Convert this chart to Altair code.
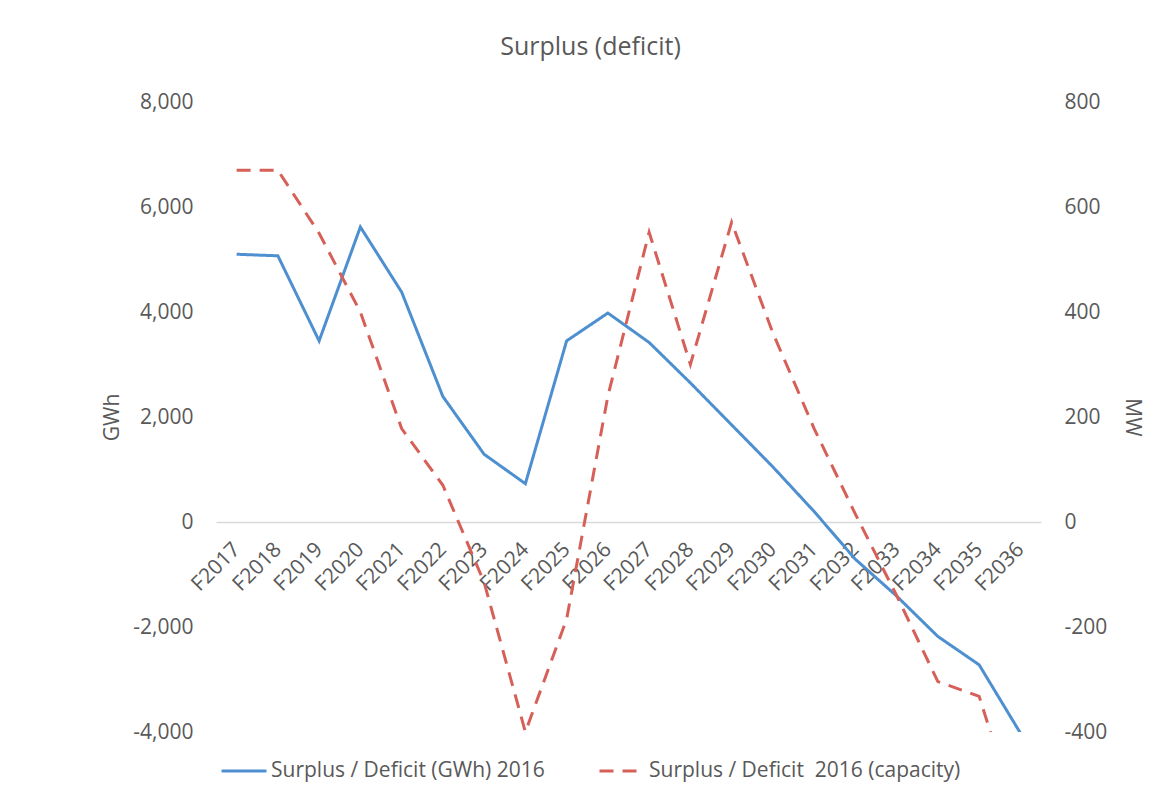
import altair as alt
import pandas as pd

categories = ["F2017", "F2018", "F2019", "F2020", "F2021", "F2022", "F2023", "F2024",
              "F2025", "F2026", "F2027", "F2028", "F2029", "F2030", "F2031", "F2032",
              "F2033", "F2034", "F2035", "F2036"]
gwh_values = [5100, 5070, 3450, 5620, 4380, 2390, 1290, 730, 3450, 3980,
              3420, 2650, 1850, 1050, 200, -710, -1410, -2180, -2720, -4020]
mw_values = [670, 670, 550, 400, 178, 70, -115, -400, -185, 240,
             552, 300, 571, 360, 178, 15, -140, -304, -332, -580]
series_names = ["Surplus / Deficit (GWh) 2016", "Surplus / Deficit \u00a02016 (capacity)"]
gwh_ticks = [-4000, -2000, 0, 2000, 4000, 6000, 8000]
mw_ticks = [-400, -200, 0, 200, 400, 600, 800]

df_gwh = pd.DataFrame({"cat": categories, "value": gwh_values, "series": series_names[0]})
df_mw = pd.DataFrame({"cat": categories, "value": mw_values, "series": series_names[1]})

GREY = "#595959"
FONT = "Open Sans"
W, H = 825, 630
FS = 21

legend = alt.Legend(
    title=None, orient="none", legendX=4, legendY=645, direction="horizontal",
    symbolType="stroke", symbolSize=2025, symbolStrokeWidth=3,
    labelFontSize=FS, labelColor=GREY, labelFont=FONT, labelLimit=500, columnPadding=48,
    labelOffset=3, symbolOffset=0,
)
color = alt.Color("series:N", scale=alt.Scale(domain=series_names, range=["#4e8fd0", "#d66058"]),
                  legend=legend)
dash = alt.StrokeDash("series:N", scale=alt.Scale(domain=series_names, range=[[1, 0], [14, 9]]),
                      legend=legend)

x = alt.X("cat:N", sort=categories,
          axis=alt.Axis(title=None, labelAngle=-45, labelAlign="right", labelBaseline="middle",
                        offset=-210, domainColor="#d9d9d9", domainWidth=1.5, ticks=False,
                        labelPadding=24, labelFontSize=FS, labelColor=GREY, labelFont=FONT,
                        grid=False))

left = alt.Chart(df_gwh).mark_line(strokeWidth=3, clip=True).encode(
    x=x,
    y=alt.Y("value:Q", scale=alt.Scale(domain=[-4000, 8000], nice=False, zero=False),
            axis=alt.Axis(values=gwh_ticks, title="GWh", grid=False, domain=False, ticks=False,
                          labelPadding=23, labelFontSize=FS, labelColor=GREY, labelFont=FONT,
                          labelExpr="replace(format(datum.value, ','), '\u2212', '-')",
                          titleFontSize=FS, titleFontWeight="normal", titleColor=GREY,
                          titleFont=FONT, titleAngle=-90, titleX=-104, titleY=H / 2,
                          titleAlign="center", titleBaseline="middle")),
    color=color,
    strokeDash=dash,
)

right = alt.Chart(df_mw).mark_line(strokeWidth=3, clip=True).encode(
    x=x,
    y=alt.Y("value:Q", scale=alt.Scale(domain=[-400, 800], nice=False, zero=False),
            axis=alt.Axis(orient="right", values=mw_ticks, title="MW", grid=False, domain=False,
                          ticks=False, labelPadding=23, labelFontSize=FS, labelColor=GREY,
                          labelFont=FONT,
                          labelExpr="replace(format(datum.value, ','), '\u2212', '-')",
                          titleFontSize=FS, titleFontWeight="normal", titleColor=GREY,
                          titleFont=FONT, titleAngle=90, titleX=90, titleY=H / 2,
                          titleAlign="center", titleBaseline="middle")),
    color=color,
    strokeDash=dash,
)

chart = alt.layer(left, right).resolve_scale(y="independent").properties(
    width=W, height=H,
    title=alt.TitleParams("Surplus (deficit)", fontSize=25, fontWeight="normal", color=GREY,
                          font=FONT, anchor="middle", dx=-38, offset=11, frame="group",
                          baseline="alphabetic"),
    autosize=alt.AutoSizeParams(type="none"),
    padding={"left": 208, "top": 94, "right": 110, "bottom": 50},
).configure(background="white", view=alt.ViewConfig(stroke=None))

chart.save("out.html", embed_options={"renderer": "svg", "actions": False})
